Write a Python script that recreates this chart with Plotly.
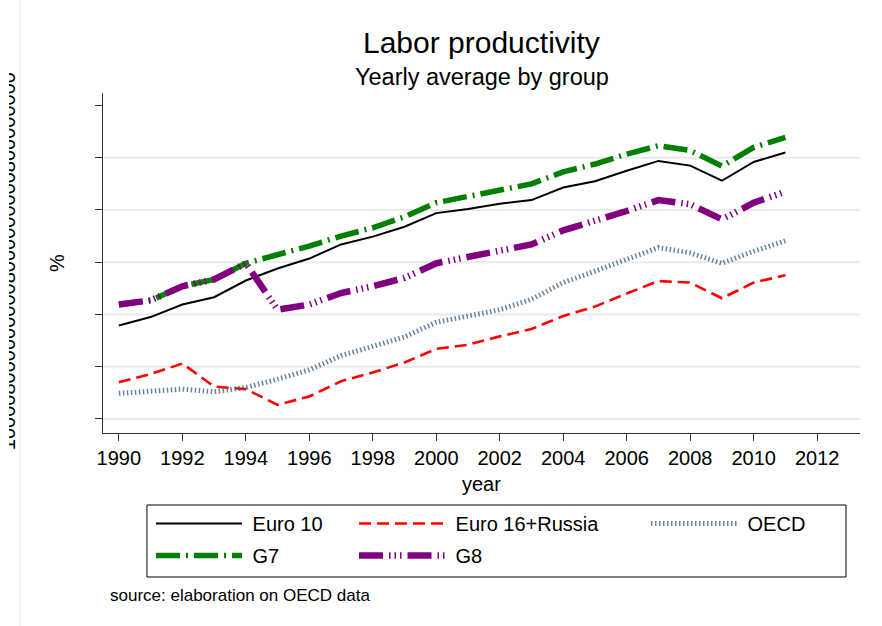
import plotly.graph_objects as go

# Years on the horizontal axis
years = list(range(1990, 2012))

# Labor productivity series by group (percent)
euro10 = [17.9, 19.5, 21.9, 23.3, 26.5, 28.8, 30.7, 33.4, 34.9, 36.8, 39.4,
          40.2, 41.2, 41.9, 44.3, 45.5, 47.5, 49.4, 48.5, 45.6, 49.2, 51.0]
euro16_russia = [7.0, 8.6, 10.6, 6.2, 5.7, 2.7, 4.3, 7.2, 8.9, 10.8, 13.4,
                 14.2, 15.8, 17.2, 19.7, 21.5, 24.0, 26.4, 26.1, 23.1, 26.1, 27.5]
oecd = [4.9, 5.2, 5.7, 5.2, 6.0, 7.6, 9.4, 12.1, 13.9, 15.7, 18.5,
        19.7, 20.9, 22.9, 26.1, 28.3, 30.5, 32.8, 31.8, 29.8, 32.1, 34.1]
g7 = [21.9, 22.7, 25.4, 26.7, 29.8, 31.4, 33.1, 35.0, 36.6, 38.7, 41.4,
      42.6, 43.8, 45.0, 47.3, 48.8, 50.7, 52.3, 51.4, 48.4, 52.0, 53.9]
g8 = [21.9, 22.7, 25.4, 26.7, 29.8, 20.9, 21.9, 24.1, 25.4, 27.0, 29.8,
      30.9, 32.1, 33.4, 36.1, 37.9, 39.8, 41.9, 41.1, 38.2, 41.4, 43.5]

# Axis ticks
x_ticks = list(range(1990, 2013, 2))
y_ticks = [0, 10, 20, 30, 40, 50, 60]
grid_levels = [0, 10, 20, 30, 40, 50]

FONT = "Liberation Sans, Arial, sans-serif"
NBSP = "\u00a0"

# name, values, line style, legend column
series = [
    ("Euro 10", euro10, dict(color="#000000", width=2, dash="solid"), "legend"),
    ("Euro 16+Russia", euro16_russia,
     dict(color="#ff0000", width=2.6, dash="12px,6px"), "legend2"),
    ("OECD", oecd, dict(color="rgba(52,91,132,0.75)", width=5, dash="1.5px,2.5px"), "legend3"),
    ("G7", g7, dict(color="#008000", width=5.5, dash="24px,6px,2px,6px"), "legend"),
    ("G8", g8, dict(color="#800080", width=6.5,
                    dash="24px,6px,1.5px,4px,1.5px,4px,1.5px,6px"), "legend2"),
]

fig = go.Figure()
for name, vals, line, leg in series:
    fig.add_trace(go.Scatter(
        x=years, y=vals, name=NBSP + name, mode="lines", line=line,
        legend=leg, legendgroup=name,
    ))

# Horizontal gridlines (none at the top tick)
for g in grid_levels:
    fig.add_shape(type="line", xref="paper", yref="y", x0=0, x1=1, y0=g, y1=g,
                  line=dict(color="#eaeaea", width=2), layer="below")

# Faint frame edge at the far left
fig.add_shape(type="line", xref="paper", yref="paper",
              x0=-0.1096, x1=-0.1096, y0=-0.57, y1=1.28,
              line=dict(color="#e8e8e8", width=1))

# Frame around the three legend columns
fig.add_shape(type="rect", xref="paper", yref="paper",
              x0=0.0581, x1=0.9815, y0=-0.4235, y1=-0.2118,
              line=dict(color="#000000", width=1), fillcolor="rgba(0,0,0,0)")

annotations = [
    dict(text="Labor productivity", x=0.5, y=1.150, xref="paper", yref="paper",
         showarrow=False, font=dict(size=30, color="#000000", family=FONT),
         xanchor="center", yanchor="middle"),
    dict(text="Yearly average by group", x=0.5, y=1.047, xref="paper", yref="paper",
         showarrow=False, font=dict(size=23.5, color="#000000", family=FONT),
         xanchor="center", yanchor="middle"),
    dict(text="year", x=0.5, y=-0.15, xref="paper", yref="paper",
         showarrow=False, font=dict(size=20, color="#000000", family=FONT),
         xanchor="center", yanchor="middle"),
    dict(text="%", x=-0.0608, y=0.5, xref="paper", yref="paper", textangle=-90,
         showarrow=False, font=dict(size=20, color="#000000", family=FONT),
         xanchor="center", yanchor="middle"),
    dict(text="source: elaboration on OECD data", x=0.0066, y=-0.479,
         xref="paper", yref="paper", showarrow=False,
         font=dict(size=17, color="#000000", family=FONT),
         xanchor="left", yanchor="middle"),
    # clipped vertical tick text at the far left edge
    dict(text="1" + "0000800000" * 3 + "000", x=-0.1080, y=0.506,
         xref="paper", yref="paper", textangle=-90, showarrow=False,
         font=dict(size=20, color="#000000", family=FONT),
         xanchor="right", yanchor="middle"),
    dict(text=" ", x=-0.1361, y=0.5, xref="paper", yref="paper", showarrow=False,
         width=9, height=420, bgcolor="#ffffff", borderpad=0, borderwidth=0,
         xanchor="left", yanchor="middle"),
]

legend_common = dict(
    orientation="v", y=-0.2088, xanchor="left", yanchor="top",
    xref="paper", yref="paper", bgcolor="rgba(0,0,0,0)", borderwidth=0,
    font=dict(size=20, family=FONT, color="#000000"),
    itemwidth=86, tracegroupgap=3, traceorder="grouped",
)

fig.update_layout(
    width=882, height=626,
    margin=dict(l=103, r=22, t=93, b=193),
    paper_bgcolor="#ffffff", plot_bgcolor="#ffffff",
    font=dict(family=FONT, size=20, color="#000000"),
    showlegend=True,
    legend=dict(legend_common, x=(151 - 103) / 757),
    legend2=dict(legend_common, x=(354 - 103) / 757),
    legend3=dict(legend_common, x=(646 - 103) / 757),
    xaxis=dict(
        range=[1989.5, 2013.35], tickvals=x_ticks, ticks="outside", ticklen=7,
        tickcolor="#333333", showline=True, linecolor="#333333", linewidth=1,
        showgrid=False, zeroline=False, tickfont=dict(size=20, family=FONT),
    ),
    yaxis=dict(
        range=[-2.7, 62.4], tickvals=y_ticks, ticks="outside", ticklen=7,
        tickcolor="#333333", showline=True, linecolor="#333333", linewidth=1,
        showgrid=False, zeroline=False, showticklabels=False,
    ),
    annotations=annotations,
)

fig.write_html("out.html")
